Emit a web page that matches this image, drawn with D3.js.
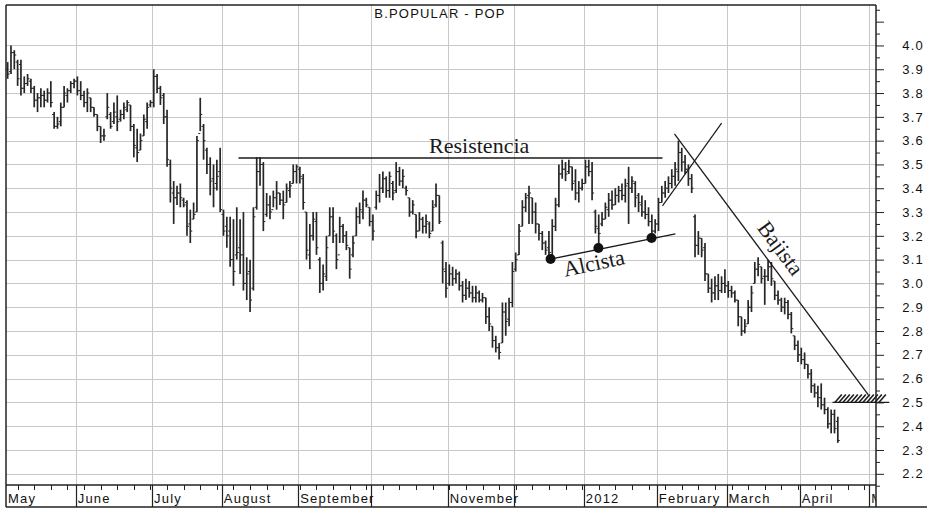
<!DOCTYPE html>
<html><head><meta charset="utf-8">
<script src="https://cdn.jsdelivr.net/npm/d3@7"></script>
<style>body{margin:0;background:#fff}svg{display:block}</style>
</head><body>
<svg id="c" width="928" height="510"></svg>
<script>
const title = "B.POPULAR - POP";
const monthLabels = ["May","June","July","August","September","","November","","2012","February","March","April","May"];
const monthStarts = [0,21,44,65,88,110,133,153,174,196,217,239,260];
const yLabels = [2.2,2.3,2.4,2.5,2.6,2.7,2.8,2.9,3.0,3.1,3.2,3.3,3.4,3.5,3.6,3.7,3.8,3.9,4.0];

const open = [
3.90,3.89,3.97,3.93,3.92,3.82,3.84,3.85,3.82,3.77,3.78,3.79,3.77,3.80,3.71,3.66,3.68,3.74,3.79,3.81,3.84,
3.85,3.81,3.79,3.76,3.78,3.74,3.71,3.66,3.62,3.70,3.71,3.68,3.70,3.69,3.71,3.73,3.75,3.66,3.57,3.56,3.62,3.68,3.75,
3.76,3.87,3.82,3.79,3.70,3.50,3.38,3.36,3.38,3.35,3.34,3.25,3.27,3.30,3.63,3.66,3.56,3.50,3.44,3.42,3.47,
3.29,3.24,3.22,3.10,3.12,3.15,3.12,3.00,3.05,2.98,3.32,3.47,3.50,3.29,3.33,3.31,3.36,3.38,3.35,3.34,3.39,3.42,3.47,
3.48,3.44,3.30,3.12,3.20,3.26,3.10,3.00,3.03,3.20,3.28,3.20,3.12,3.24,3.20,3.15,3.12,3.20,3.28,3.30,3.35,3.32,
3.26,3.32,3.37,3.40,3.44,3.39,3.42,3.39,3.47,3.43,3.40,3.36,3.30,3.29,3.22,3.27,3.24,3.25,3.22,3.33,3.37,3.17,3.05,
3.00,3.04,3.02,3.04,2.99,2.95,2.98,2.96,2.94,2.96,2.93,2.94,2.86,2.82,2.76,2.73,2.75,2.88,2.85,2.92,
3.06,3.12,3.24,3.32,3.37,3.36,3.30,3.25,3.21,3.17,3.15,3.12,3.24,3.33,3.46,3.48,3.47,3.49,3.43,3.38,3.40,
3.42,3.49,3.47,3.30,3.23,3.25,3.27,3.31,3.35,3.33,3.37,3.39,3.37,3.42,3.40,3.42,3.37,3.33,3.30,3.29,3.26,3.22,
3.25,3.34,3.38,3.40,3.42,3.45,3.47,3.55,3.51,3.48,3.44,3.28,3.16,3.19,3.15,3.04,2.98,2.96,2.99,2.97,3.00,
2.99,2.97,2.96,2.93,2.86,2.80,2.83,2.90,3.00,3.06,3.07,3.03,3.03,3.07,3.01,2.95,2.93,2.90,2.92,2.87,2.78,2.74,
2.70,2.68,2.66,2.62,2.57,2.54,2.52,2.49,2.47,2.41,2.45,2.42];
const high = [
3.93,4.00,3.98,3.94,3.94,3.87,3.88,3.86,3.83,3.80,3.82,3.81,3.82,3.85,3.72,3.70,3.76,3.83,3.82,3.85,3.86,
3.87,3.85,3.81,3.82,3.78,3.74,3.71,3.66,3.65,3.80,3.72,3.76,3.79,3.73,3.76,3.77,3.75,3.67,3.65,3.63,3.71,3.76,3.77,
3.90,3.88,3.83,3.80,3.73,3.52,3.43,3.41,3.42,3.36,3.35,3.31,3.34,3.62,3.78,3.67,3.57,3.53,3.50,3.52,3.57,
3.31,3.28,3.28,3.27,3.32,3.27,3.30,3.11,3.10,3.32,3.53,3.53,3.51,3.38,3.37,3.39,3.43,3.38,3.39,3.42,3.43,3.50,3.50,
3.49,3.46,3.30,3.25,3.30,3.30,3.11,3.08,3.20,3.32,3.32,3.21,3.28,3.25,3.22,3.15,3.20,3.32,3.34,3.39,3.36,3.32,
3.29,3.39,3.46,3.47,3.45,3.47,3.43,3.51,3.49,3.48,3.41,3.36,3.35,3.29,3.30,3.28,3.29,3.26,3.35,3.42,3.37,3.18,3.09,
3.08,3.07,3.06,3.05,3.01,3.02,3.01,2.99,2.99,2.97,2.96,2.94,2.90,2.82,2.78,2.75,2.92,2.92,2.94,3.09,
3.13,3.25,3.35,3.38,3.41,3.36,3.34,3.25,3.22,3.18,3.22,3.27,3.36,3.50,3.52,3.51,3.52,3.49,3.48,3.43,3.44,
3.52,3.52,3.51,3.31,3.29,3.30,3.34,3.38,3.39,3.40,3.41,3.42,3.44,3.49,3.45,3.43,3.38,3.37,3.35,3.32,3.29,3.27,
3.36,3.41,3.43,3.45,3.48,3.51,3.60,3.57,3.54,3.50,3.46,3.29,3.22,3.19,3.17,3.04,3.02,3.03,3.04,3.03,3.06,
3.01,2.99,2.97,2.93,2.86,2.85,2.93,2.99,3.09,3.11,3.07,3.06,3.10,3.09,3.01,2.97,2.94,2.94,2.93,2.88,2.78,2.76,
2.73,2.71,2.66,2.64,2.58,2.57,2.58,2.52,2.48,2.47,2.47,2.44];
const low = [
3.86,3.88,3.90,3.83,3.79,3.80,3.83,3.80,3.74,3.72,3.74,3.74,3.76,3.74,3.65,3.65,3.66,3.74,3.76,3.80,3.82,
3.79,3.77,3.74,3.72,3.72,3.70,3.64,3.59,3.60,3.69,3.65,3.67,3.64,3.68,3.69,3.72,3.64,3.53,3.51,3.56,3.62,3.65,3.74,
3.74,3.80,3.75,3.67,3.49,3.34,3.25,3.33,3.32,3.32,3.20,3.17,3.27,3.30,3.64,3.52,3.46,3.37,3.32,3.39,3.30,
3.20,3.15,3.07,2.99,3.10,3.04,2.97,2.93,2.88,2.97,3.31,3.41,3.22,3.28,3.27,3.32,3.31,3.33,3.27,3.34,3.36,3.42,3.42,
3.42,3.31,3.10,3.06,3.18,3.12,2.96,2.97,3.01,3.20,3.17,3.06,3.17,3.17,3.14,3.02,3.11,3.20,3.25,3.27,3.32,3.24,
3.18,3.31,3.34,3.38,3.36,3.36,3.35,3.38,3.41,3.40,3.37,3.28,3.29,3.19,3.22,3.21,3.21,3.19,3.22,3.32,3.25,3.00,2.94,
2.99,2.99,3.00,2.97,2.92,2.93,2.94,2.92,2.92,2.92,2.92,2.83,2.80,2.73,2.71,2.68,2.75,2.78,2.82,2.90,
3.05,3.12,3.24,3.30,3.25,3.25,3.21,3.18,3.14,3.12,3.10,3.10,3.22,3.32,3.44,3.43,3.46,3.39,3.35,3.34,3.39,
3.42,3.45,3.35,3.21,3.16,3.24,3.27,3.28,3.31,3.33,3.34,3.35,3.34,3.25,3.38,3.32,3.30,3.28,3.27,3.24,3.19,3.21,
3.22,3.34,3.36,3.38,3.40,3.41,3.43,3.47,3.46,3.41,3.38,3.11,3.12,3.11,3.01,2.96,2.92,2.93,2.93,2.96,2.96,
2.94,2.94,2.92,2.82,2.78,2.79,2.83,2.88,3.00,3.03,3.00,2.91,3.01,2.99,2.93,2.91,2.88,2.87,2.85,2.79,2.72,2.67,
2.66,2.64,2.60,2.54,2.52,2.48,2.47,2.45,2.39,2.37,2.37,2.33];
const close = [
3.88,3.97,3.96,3.86,3.82,3.84,3.86,3.82,3.77,3.78,3.79,3.77,3.80,3.76,3.66,3.67,3.74,3.80,3.81,3.84,3.85,
3.81,3.79,3.76,3.80,3.74,3.71,3.66,3.62,3.62,3.74,3.66,3.72,3.68,3.71,3.74,3.76,3.66,3.58,3.55,3.60,3.69,3.74,3.76,
3.87,3.82,3.78,3.70,3.52,3.40,3.36,3.38,3.36,3.33,3.24,3.22,3.29,3.60,3.71,3.60,3.50,3.43,3.40,3.45,3.31,
3.22,3.20,3.10,3.05,3.13,3.12,3.00,3.04,2.93,3.28,3.47,3.50,3.26,3.33,3.30,3.36,3.38,3.35,3.33,3.40,3.41,3.47,3.49,
3.45,3.34,3.14,3.20,3.27,3.15,3.00,3.04,3.15,3.28,3.22,3.10,3.24,3.20,3.16,3.06,3.17,3.28,3.31,3.35,3.33,3.26,
3.22,3.37,3.40,3.44,3.39,3.45,3.38,3.47,3.43,3.45,3.39,3.30,3.33,3.22,3.27,3.24,3.26,3.21,3.32,3.37,3.26,3.06,2.98,
3.04,3.02,3.04,2.99,2.95,2.98,2.96,2.94,2.96,2.93,2.94,2.86,2.83,2.76,2.73,2.71,2.88,2.84,2.92,3.05,
3.10,3.22,3.32,3.36,3.38,3.30,3.25,3.21,3.17,3.14,3.13,3.24,3.33,3.46,3.48,3.46,3.49,3.42,3.38,3.40,3.42,
3.49,3.47,3.38,3.24,3.21,3.27,3.32,3.35,3.33,3.37,3.39,3.37,3.41,3.40,3.43,3.36,3.34,3.30,3.29,3.26,3.22,3.25,
3.34,3.38,3.40,3.42,3.45,3.48,3.55,3.51,3.48,3.44,3.40,3.16,3.19,3.14,3.04,2.98,2.96,2.99,2.97,3.00,2.99,
2.97,2.96,2.93,2.86,2.80,2.82,2.90,2.96,3.06,3.08,3.02,3.03,3.07,3.02,2.95,2.93,2.90,2.92,2.87,2.81,2.74,2.70,
2.68,2.66,2.62,2.57,2.54,2.52,2.49,2.47,2.41,2.45,2.39,2.34];

// annotations (index, price)
const resistencia = [[70, 3.527], [197.7, 3.527]];
const alcista = [[162.8, 3.099], [201.6, 3.208]];
const alcistaDots = [[164, 3.103], [178.4, 3.149], [194.4, 3.191]];
const risingLine = [[197.7, 3.326], [215.5, 3.674]];
const bajista = [[201.3, 3.628], [259.7, 2.532]];
const soporte = [[248.9, 2.5], [266, 2.5]];

const svg = d3.select("#c");
const L = 6, R = 876, T = 5, B = 485, BB = 507;
const x = d3.scaleLinear().domain([0, 262]).range([L, R]);
const y = d3.scaleLinear().domain([2.153, 4.170]).range([B, T]);
const font = "'Liberation Sans', Arial, sans-serif";
const serif = "'Liberation Serif', 'Times New Roman', serif";

// grid
const g = svg.append("g");
g.selectAll("line.h").data(yLabels).join("line")
  .attr("x1", L).attr("x2", R).attr("y1", d => Math.round(y(d)) + 0.5).attr("y2", d => Math.round(y(d)) + 0.5)
  .attr("stroke", "#c8c8c8").attr("stroke-width", 1);
g.selectAll("line.v").data(monthStarts.slice(1)).join("line")
  .attr("x1", d => Math.round(x(d)) + 0.5).attr("x2", d => Math.round(x(d)) + 0.5)
  .attr("y1", T).attr("y2", B).attr("stroke", "#c8c8c8").attr("stroke-width", 1);

// bars
const idx = d3.range(high.length);
const bars = svg.append("g").attr("stroke", "#262626").attr("fill", "none");
bars.selectAll("line.b").data(idx).join("line")
  .attr("x1", i => x(i + 0.5)).attr("x2", i => x(i + 0.5))
  .attr("y1", i => y(high[i])).attr("y2", i => y(low[i])).attr("stroke-width", 1.7);
bars.selectAll("line.o").data(idx).join("line")
  .attr("x1", i => x(i + 0.5) - 2).attr("x2", i => x(i + 0.5))
  .attr("y1", i => y(open[i])).attr("y2", i => y(open[i])).attr("stroke-width", 1);
bars.selectAll("line.c").data(idx).join("line")
  .attr("x1", i => x(i + 0.5)).attr("x2", i => x(i + 0.5) + 2)
  .attr("y1", i => y(close[i])).attr("y2", i => y(close[i])).attr("stroke-width", 1);

// annotation lines
const line = d3.line().x(d => x(d[0])).y(d => y(d[1]));
const ann = svg.append("g").attr("fill", "none").attr("stroke", "#1a1a1a");
ann.append("path").attr("d", line(resistencia)).attr("stroke-width", 1.3);
ann.append("path").attr("d", line(alcista)).attr("stroke-width", 1.4);
ann.append("path").attr("d", line(risingLine)).attr("stroke-width", 1.2);
ann.append("path").attr("d", line(bajista)).attr("stroke-width", 1.3);
ann.append("path").attr("d", line(soporte)).attr("stroke-width", 1.3);
svg.append("g").selectAll("circle").data(alcistaDots).join("circle")
  .attr("cx", d => x(d[0])).attr("cy", d => y(d[1])).attr("r", 5).attr("fill", "#111");
// hatch on support
const hy = y(soporte[0][1]);
const hatchXs = d3.range(x(249.6), x(263.5), 4);
svg.append("g").selectAll("line").data(hatchXs).join("line")
  .attr("x1", d => d).attr("y1", hy).attr("x2", d => d + 7).attr("y2", hy - 8)
  .attr("stroke", "#1a1a1a").attr("stroke-width", 1.6);

// annotation text
const tx = svg.append("g").attr("font-family", serif).attr("font-size", 22).attr("fill", "#1a1a1a");
tx.append("text").attr("x", x(142.5)).attr("y", y(3.527) - 5).attr("text-anchor", "middle").text("Resistencia");
tx.append("text").attr("transform", `translate(${x(177.5)},${y(3.055)}) rotate(-12)`).attr("text-anchor", "middle").text("Alcista");
tx.append("text").attr("transform", `translate(${x(231.5)},${y(3.13)}) rotate(53.5)`).attr("text-anchor", "middle").text("Bajista");

// frame
const fr = svg.append("g").attr("stroke", "#222").attr("stroke-width", 1.5);
fr.append("line").attr("x1", L).attr("x2", L).attr("y1", T).attr("y2", BB);
fr.append("line").attr("x1", L).attr("x2", R).attr("y1", T).attr("y2", T);
fr.append("line").attr("x1", R).attr("x2", R).attr("y1", T).attr("y2", BB);
fr.append("line").attr("x1", L).attr("x2", R).attr("y1", B).attr("y2", B);
fr.append("line").attr("x1", L).attr("x2", 927).attr("y1", BB).attr("y2", BB);

// right axis
const ticksMajor = d3.range(22, 42).map(d => d / 10);
const ticksMinor = d3.range(21.5, 42, 1).map(d => d / 10);
const ra = svg.append("g").attr("transform", `translate(${R},0)`);
ra.call(d3.axisRight(y).tickValues(ticksMinor).tickSize(4).tickFormat(""))
  .call(a => a.select(".domain").remove());
ra.selectAll("line").attr("stroke", "#222");
const ra2 = svg.append("g").attr("transform", `translate(${R},0)`);
ra2.call(d3.axisRight(y).tickValues(ticksMajor).tickSize(8)
    .tickFormat(d => yLabels.some(v => Math.abs(v - d) < 1e-6) ? d3.format(".1f")(d) : ""))
  .call(a => a.select(".domain").remove());
ra2.selectAll("line").attr("stroke", "#222");
ra2.selectAll("text").attr("x", 48).attr("text-anchor", "end")
  .attr("font-family", font).attr("font-size", 13).attr("letter-spacing", 1.2).attr("fill", "#111");

// bottom axis: weekly ticks, month separators, labels
const weekTicks = d3.range(3.5, 262, 5);
svg.append("g").selectAll("line").data(weekTicks).join("line")
  .attr("x1", d => Math.round(x(d)) + 0.5).attr("x2", d => Math.round(x(d)) + 0.5)
  .attr("y1", B).attr("y2", B + 5).attr("stroke", "#222").attr("stroke-width", 1);
svg.append("g").selectAll("line").data(monthStarts.slice(1)).join("line")
  .attr("x1", d => Math.round(x(d)) + 0.5).attr("x2", d => Math.round(x(d)) + 0.5)
  .attr("y1", B).attr("y2", BB).attr("stroke", "#222").attr("stroke-width", 1.2);
svg.append("clipPath").attr("id", "clipx").append("rect").attr("x", L).attr("y", B).attr("width", R - L).attr("height", BB - B);
svg.append("g").attr("clip-path", "url(#clipx)")
  .selectAll("text").data(monthStarts).join("text")
  .attr("x", d => x(d) + 2).attr("y", 503)
  .attr("font-family", font).attr("font-size", 13).attr("letter-spacing", 1.2).attr("fill", "#111")
  .text((d, i) => monthLabels[i]);

// title
svg.append("text").attr("x", 440).attr("y", 18).attr("text-anchor", "middle")
  .attr("font-family", font).attr("font-size", 13).attr("letter-spacing", 1.2).attr("fill", "#111")
  .text(title);
</script>
</body></html>
